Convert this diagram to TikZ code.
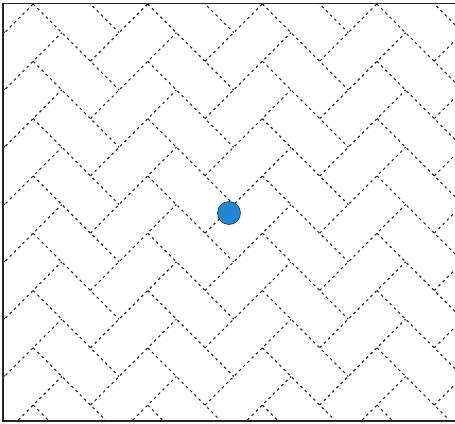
\documentclass[tikz,border=0pt]{standalone}
\usepackage{tikz}
\definecolor{dotblue}{RGB}{33,135,212}
\begin{document}
\begin{tikzpicture}[seam/.style={draw=black!85,line width=1.1pt,dash pattern=on 2.6pt off 3.4pt},
  frame/.style={draw=black!85,line width=1.6pt}]
\useasboundingbox (0,0) rectangle (455pt,-423pt);
\begin{scope}
\clip (3pt,-3pt) rectangle (455pt,-421pt);
\begin{scope}[shift={(4.5pt,-4pt)},x={(28.65pt,0pt)},y={(0pt,-28.65pt)}]
\foreach \a in {-1,...,4}
\foreach \b in {-2,...,9}{
  \pgfmathtruncatemacro\p{1+4*\a}
  \pgfmathtruncatemacro\q{2*\b}
  \draw[seam] (\p,\q)--++(3,3);
  \draw[seam] (\p+2,\q)--++(3,-3);
}
\end{scope}
\end{scope}
\node[circle,draw=black!80,fill=dotblue,minimum size=23pt,inner sep=0pt,line width=0.6pt] (centre) at (229pt,-213pt) {};
\draw[frame] (455pt,-3.5pt)--(3pt,-3.5pt)--(3pt,-421pt)--(455pt,-421pt);
\end{tikzpicture}
\end{document}
